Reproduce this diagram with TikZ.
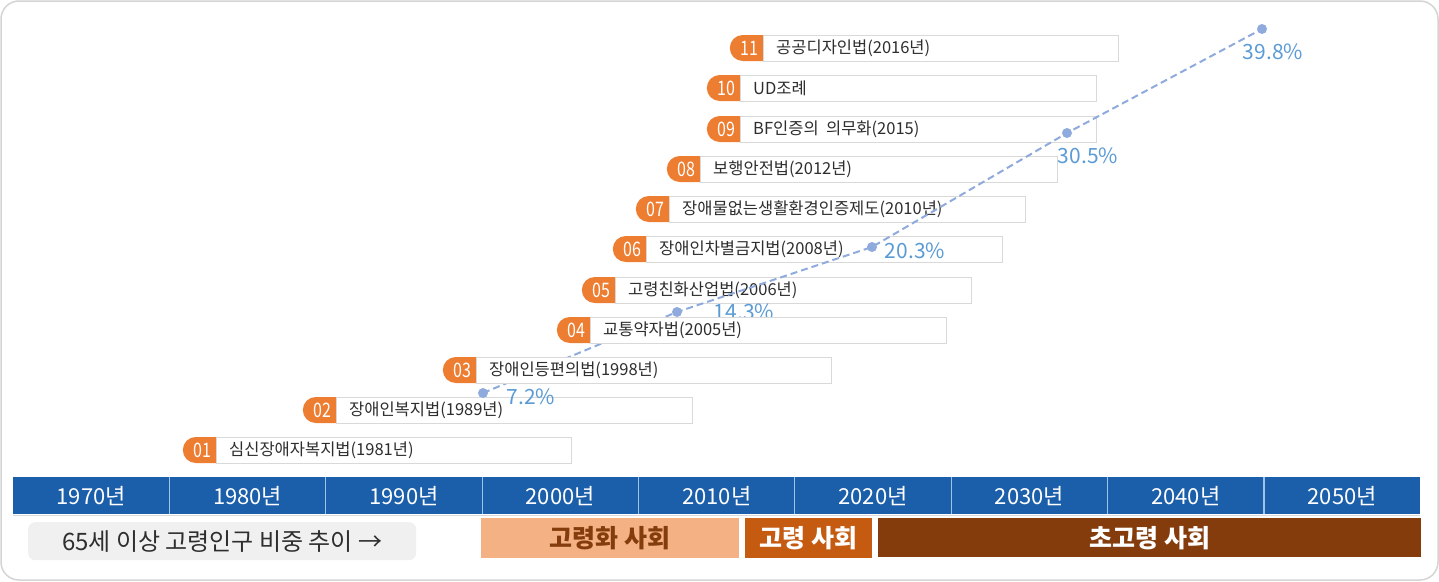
\documentclass[tikz,border=0pt]{standalone}
\usepackage{fontspec}
\setmainfont{Noto Sans CJK KR}
\usetikzlibrary{shapes.misc,calc}
\definecolor{badgeor}{HTML}{ED7D31}
\definecolor{boxline}{HTML}{D9D9D9}
\definecolor{txtgray}{HTML}{2E2E2E}
\definecolor{barblue}{HTML}{1B5EA9}
\definecolor{divblue}{HTML}{9DC3E6}
\definecolor{dotblue}{HTML}{8FAADC}
\definecolor{pctblue}{HTML}{5B9BD5}
\definecolor{socone}{HTML}{F4B183}
\definecolor{soconetxt}{HTML}{843C0C}
\definecolor{soctwo}{HTML}{C55A11}
\definecolor{socthree}{HTML}{843C0C}
\definecolor{framegray}{HTML}{D4D4D4}
\definecolor{trendgray}{HTML}{F0F0F0}
\newcommand\lawrow[6]{%
  \node[lawbox, minimum width={#4-#2-33}] (box#1) at (#2+33,#3) {};
  \node[badge] (badge#1) at (box#1.west) {};
  \node[badgenum] (num#1) at ([xshift=-14]badge#1.east) {\scalebox{0.8}[1]{#5}};
  \node[lawtxt] (txt#1) at ([xshift=13]box#1.west) {#6};
}
\begin{document}
\begin{tikzpicture}[x=1pt,y=-1pt,
  badge/.style={rounded rectangle, rounded rectangle right arc=none, fill=badgeor,
    minimum width=33pt, minimum height=26pt, inner sep=0pt, anchor=east},
  badgenum/.style={text=white, inner sep=0pt, font=\fontsize{20}{20}\selectfont},
  lawbox/.style={draw=boxline, line width=1pt, fill=white, minimum height=26pt,
    anchor=west, inner sep=0pt},
  lawtxt/.style={anchor=west, inner sep=0pt, text=txtgray, font=\fontsize{16.5}{16.5}\selectfont},
  pctdot/.style={circle, fill=dotblue, minimum size=10pt, inner sep=0pt},
  pct/.style={text=pctblue, inner sep=0pt, font=\fontsize{21}{21}\selectfont},
  trendline/.style={dotblue, line width=2pt, dash pattern=on 7pt off 4pt},
  year/.style={text=white, inner sep=0pt, font=\fontsize{22}{22}\selectfont},
  society/.style={minimum height=40pt, inner sep=0pt, anchor=north west,
    font=\bfseries\fontsize{25}{25}\selectfont},
]
\useasboundingbox (0,0) rectangle (1439,581);
% frame
\draw[framegray, line width=1.5pt, rounded corners=18pt] (1,1) rectangle (1438,580);

% law rows below the trend line
\lawrow{01}{183}{450}{571}{01}{심신장애자복지법(1981년)}
\lawrow{02}{303}{410}{692}{02}{장애인복지법(1989년)}
\lawrow{05}{582}{290}{971}{05}{고령친화산업법(2006년)}
\lawrow{06}{613}{249}{1002}{06}{장애인차별금지법(2008년)}
\lawrow{07}{636}{209}{1025}{07}{장애물없는생활환경인증제도(2010년)}
\lawrow{08}{667}{169}{1057}{08}{보행안전법(2012년)}
\lawrow{09}{707}{129}{1096}{09}{BF인증의\ \ 의무화(2015)}
\lawrow{10}{707}{88}{1096}{10}{UD조례}
\lawrow{11}{730}{48}{1118}{11}{공공디자인법(2016년)}

% trend line
\coordinate (p1) at (483,393);
\coordinate (p2) at (677,312);
\coordinate (p3) at (872,247);
\coordinate (p4) at (1067,133);
\coordinate (p5) at (1262,29);
\draw[trendline] (p1) -- (p2) -- (p3) -- (p4) -- (p5);
\foreach \i in {1,...,5} { \node[pctdot] (d\i) at (p\i) {}; }
\node[pct] (l1) at (531,397) {7.2\%};
\node[pct] (l2) at (744,312) {14.3\%};
\node[pct] (l3) at (915,251) {20.3\%};
\node[pct] (l4) at (1088,156) {30.5\%};
\node[pct] (l5) at (1273,52) {39.8\%};

% law rows above the trend line
\lawrow{03}{443}{370}{831}{03}{장애인등편의법(1998년)}
\lawrow{04}{557}{330}{946}{04}{교통약자법(2005년)}

% timeline bar
\draw[black!15, line width=1.5pt] (13,515.5) -- (1420,515.5);
\node[fill=barblue, minimum width=1407pt, minimum height=37pt, inner sep=0pt, anchor=north west] (bar) at (13,477) {};
\foreach \i in {1,...,8} {
  \draw[divblue, line width=1.2pt] ($(bar.north west)!\i/9!(bar.north east)$) -- ($(bar.south west)!\i/9!(bar.south east)$);
}
\foreach \yr [count=\i from 0] in {1970,1980,1990,2000,2010,2020,2030,2040,2050} {
  \node[year] (yr\i) at ($(bar.west)!{(\i+0.5)/9}!(bar.east)$) {\yr 년};
}

% bottom row
\node[fill=trendgray, rounded corners=7pt, minimum width=388pt, minimum height=38pt, inner sep=0pt,
  anchor=north west, text=txtgray, font=\fontsize{24}{24}\selectfont] (trend) at (28,522) {65세 이상 고령인구 비중 추이 →};
\node[society, fill=socone, text=soconetxt, minimum width=258pt] (s1) at (481,518) {고령화 사회};
\node[society, fill=soctwo, text=white, minimum width=127pt] (s2) at (745,518) {고령 사회};
\node[society, fill=socthree, text=white, minimum width=543pt, minimum height=39pt] (s3) at (878,518) {초고령 사회};
\end{tikzpicture}
\end{document}
